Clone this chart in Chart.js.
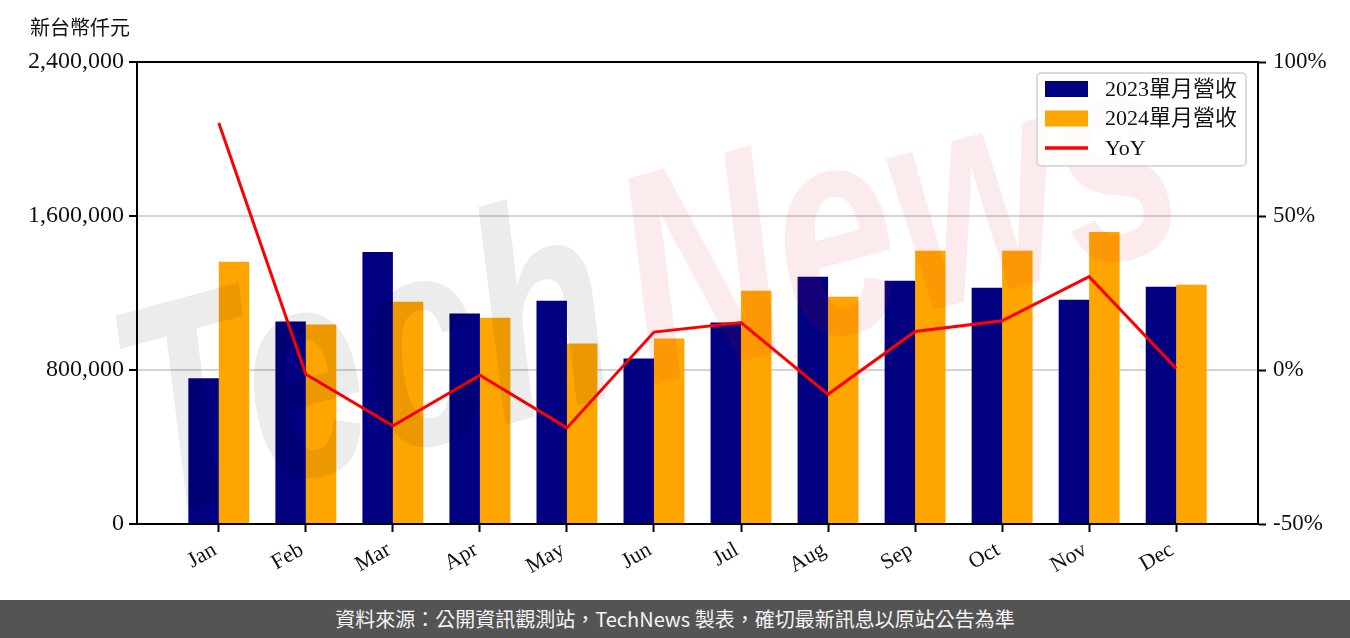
<!DOCTYPE html>
<html>
<head>
<meta charset="utf-8">
<script src="https://cdn.jsdelivr.net/npm/chart.js@4"></script>
<style>
  body { margin: 0; background: #fff; }
  #wrap { width: 1350px; height: 638px; position: relative; }
  #footer {
    position: absolute; left: 0; top: 600px; width: 1350px; height: 38px;
    background: #545454; color: #f4f4f4; text-align: center;
    font: 20px "Noto Sans CJK TC", "Noto Sans", sans-serif; line-height: 38px;
  }
</style>
</head>
<body>
<div id="wrap">
  <canvas id="revChart" width="1350" height="600"></canvas>
  <div id="footer">資料來源：公開資訊觀測站，TechNews 製表，確切最新訊息以原站公告為準</div>
</div>
<script>
// 月份與數據（新台幣仟元）
const months = ['Jan', 'Feb', 'Mar', 'Apr', 'May', 'Jun', 'Jul', 'Aug', 'Sep', 'Oct', 'Nov', 'Dec'];
const rev2023 = [757000, 1052000, 1413000, 1093000, 1160000, 860000, 1047000, 1284000, 1264000, 1227000, 1165000, 1233000];
const rev2024 = [1362000, 1036000, 1155000, 1072000, 938000, 964000, 1212000, 1181000, 1419000, 1419000, 1517000, 1243000];
const yoy = [80.2, -1.4, -18.1, -1.7, -18.8, 12.3, 15.4, -7.9, 12.5, 16.0, 30.3, 0.5];

const leftTicks = [0, 800000, 1600000, 2400000];
const rightTicks = [-50, 0, 50, 100];

const serif = '"Liberation Serif", "Noto Sans CJK TC", serif';

function toPoints(values) {
    return values.map((v, i) => ({ x: i, y: v }));
}

// 浮水印、標題、外框與圖例
const decorPlugin = {
    id: 'decor',
    afterDatasetsDraw(chart) {
        const ctx = chart.ctx;
        ctx.save();
        ctx.translate(150, 520);
        ctx.rotate(-15 * Math.PI / 180);
        ctx.scale(0.72, 1);
        ctx.font = 'italic bold 300px "Liberation Sans"';
        ctx.textBaseline = 'alphabetic';
        ctx.fillStyle = 'rgba(0,0,0,0.075)';
        ctx.fillText('Tech', 0, 0);
        const w = ctx.measureText('Tech').width;
        ctx.fillStyle = 'rgba(225,20,30,0.085)';
        ctx.fillText('News', w + 30, 0);
        ctx.restore();
    },
    afterDraw(chart) {
        const ctx = chart.ctx;
        const a = chart.chartArea;
        ctx.save();
        // 外框
        ctx.strokeStyle = '#000';
        ctx.lineWidth = 2;
        ctx.strokeRect(a.left, a.top, a.right - a.left, a.bottom - a.top);

        // 標題
        ctx.fillStyle = '#111';
        ctx.font = '20px "Noto Sans CJK TC", sans-serif';
        ctx.textBaseline = 'middle';
        ctx.textAlign = 'left';
        ctx.fillText('新台幣仟元', 30, 27);

        // 圖例
        const bx = 1037, by = 73, bw = 209, bh = 93;
        ctx.beginPath();
        ctx.roundRect(bx, by, bw, bh, 4);
        ctx.fillStyle = 'rgba(255,255,255,0.8)';
        ctx.fill();
        ctx.strokeStyle = '#d0d0d0';
        ctx.lineWidth = 1.5;
        ctx.stroke();
        ctx.font = '22px ' + serif;
        chart.data.datasets.forEach((ds, i) => {
            const cy = by + 16 + i * 29.5;
            if (ds.type === 'line') {
                ctx.strokeStyle = ds.borderColor;
                ctx.lineWidth = 3.5;
                ctx.beginPath();
                ctx.moveTo(1045, cy);
                ctx.lineTo(1088, cy);
                ctx.stroke();
            } else {
                ctx.fillStyle = ds.backgroundColor;
                ctx.fillRect(1045, cy - 8, 43, 16);
            }
            ctx.fillStyle = '#111';
            ctx.fillText(ds.label, 1105, cy + 1);
        });
        ctx.restore();
    }
};

const ctx = document.getElementById('revChart').getContext('2d');
const chart = new Chart(ctx, {
    type: 'bar',
    data: {
        datasets: [{
            label: '2023單月營收',
            data: toPoints(rev2023),
            backgroundColor: '#000080',
            yAxisID: 'y',
            order: 2
        }, {
            label: '2024單月營收',
            data: toPoints(rev2024),
            backgroundColor: '#FFA500',
            yAxisID: 'y',
            order: 2
        }, {
            type: 'line',
            label: 'YoY',
            data: toPoints(yoy),
            borderColor: '#FF0000',
            borderWidth: 3,
            pointRadius: 0,
            tension: 0,
            yAxisID: 'y1',
            order: 1
        }]
    },
    options: {
        responsive: false,
        animation: false,
        devicePixelRatio: 1,
        layout: { padding: { top: 62, left: 0, right: 0, bottom: 0 } },
        categoryPercentage: 0.7,
        barPercentage: 1.0,
        plugins: {
            legend: { display: false },
            tooltip: { enabled: false }
        },
        scales: {
            x: {
                type: 'linear',
                position: 'bottom',
                offset: false,
                min: -0.94,
                max: 11.94,
                afterBuildTicks: s => { s.ticks = months.map((m, i) => ({ value: i })); },
                afterFit: s => { s.height = 76; },
                ticks: {
                    autoSkip: false,
                    maxRotation: 30,
                    minRotation: 30,
                    padding: 5,
                    labelOffset: -4,
                    color: '#111',
                    font: { family: serif, size: 22 },
                    callback: v => months[v]
                },
                grid: { offset: false, drawOnChartArea: false, tickLength: 8, tickWidth: 2, tickColor: '#000' },
                border: { color: '#000', width: 2 }
            },
            y: {
                position: 'left',
                min: 0,
                max: 2400000,
                afterBuildTicks: s => { s.ticks = leftTicks.map(v => ({ value: v })); },
                afterFit: s => { s.width = 137; },
                ticks: {
                    padding: 5,
                    color: '#111',
                    font: { family: serif, size: 24 },
                    callback: v => v.toLocaleString('en-US')
                },
                grid: { color: '#d3d3d3', lineWidth: 2, tickLength: 8, tickWidth: 2, tickColor: '#000' },
                border: { color: '#000', width: 2 }
            },
            y1: {
                position: 'right',
                min: -50,
                max: 100,
                afterBuildTicks: s => { s.ticks = rightTicks.map(v => ({ value: v })); },
                afterFit: s => { s.width = 92; },
                ticks: {
                    padding: 7,
                    color: '#111',
                    font: { family: serif, size: 23 },
                    callback: v => v + '%'
                },
                grid: { drawOnChartArea: false, tickLength: 8, tickWidth: 2, tickColor: '#000' },
                border: { color: '#000', width: 2 }
            }
        }
    },
    plugins: [decorPlugin]
});
</script>
</body>
</html>
